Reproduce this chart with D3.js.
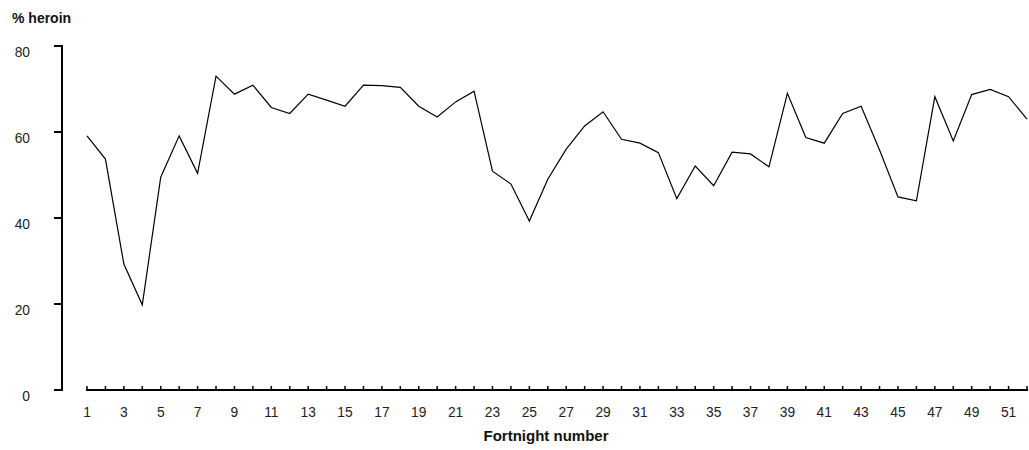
<!DOCTYPE html>
<html>
<head>
<meta charset="utf-8">
<script src="https://cdn.jsdelivr.net/npm/d3@7"></script>
<style>
  html, body { margin: 0; padding: 0; background: #fff; }
  svg { display: block; }
  .tick-label { font-family: "Liberation Sans", Arial, sans-serif; font-size: 15px; fill: #222; }
  .title { font-family: "Liberation Sans", Arial, sans-serif; font-weight: bold; fill: #111; }
</style>
</head>
<body>
<svg id="chart" width="1029" height="450"></svg>
<script>
// Data
const fortnights = d3.range(1, 53);
const heroinPct = [
  59.1, 53.7, 29.3, 19.8, 49.5, 59.1, 50.4, 73.0, 68.8, 70.9,
  65.7, 64.3, 68.8, 67.4, 66.0, 70.9, 70.8, 70.4, 66.0, 63.5,
  67.0, 69.5, 50.9, 47.9, 39.3, 49.0, 56.0, 61.4, 64.7, 58.3,
  57.4, 55.2, 44.5, 52.1, 47.5, 55.3, 54.9, 51.9, 69.0, 58.7,
  57.4, 64.3, 66.0, 55.8, 44.9, 44.0, 68.2, 57.9, 68.7, 69.9,
  68.2, 63.0
];
const yTicks = [0, 20, 40, 60, 80];
const xTickLabels = d3.range(1, 53, 2);
const yTitle = "% heroin";
const xTitle = "Fortnight number";

const svg = d3.select("#chart");

const x = d3.scaleLinear().domain([1, 52]).range([87, 1027]);
const y = d3.scaleLinear().domain([0, 80]).range([390, 46]);
const narrow = 0.92;

// Y axis
const yAxisX = 62;
svg.append("line")
  .attr("x1", yAxisX).attr("x2", yAxisX)
  .attr("y1", y(80) - 1).attr("y2", y(0) + 1)
  .attr("stroke", "#000").attr("stroke-width", 2);
svg.selectAll(".ytick").data(yTicks).enter().append("line")
  .attr("x1", 54).attr("x2", yAxisX)
  .attr("y1", d => y(d)).attr("y2", d => y(d))
  .attr("stroke", "#000").attr("stroke-width", 2);
svg.selectAll(".ylab").data(yTicks).enter().append("text")
  .attr("class", "tick-label")
  .attr("transform", d => `translate(30,${y(d) + 6}) scale(${narrow},1)`)
  .attr("text-anchor", "end")
  .attr("dominant-baseline", "central")
  .text(d => d);

// X axis
const xAxisY = y(0);
svg.append("line")
  .attr("x1", x(1) - 1).attr("x2", x(52) + 1)
  .attr("y1", xAxisY).attr("y2", xAxisY)
  .attr("stroke", "#000").attr("stroke-width", 2);
svg.selectAll(".xtick").data(fortnights).enter().append("line")
  .attr("x1", d => x(d)).attr("x2", d => x(d))
  .attr("y1", xAxisY - 4).attr("y2", xAxisY)
  .attr("stroke", "#000").attr("stroke-width", 1.5);
svg.selectAll(".xlab").data(xTickLabels).enter().append("text")
  .attr("class", "tick-label")
  .attr("transform", d => `translate(${x(d)},417) scale(${narrow},1)`)
  .attr("text-anchor", "middle")
  .text(d => d);

// Titles
svg.append("text").attr("class", "title")
  .attr("x", 12).attr("y", 23)
  .style("font-size", "14px")
  .text(yTitle);
svg.append("text").attr("class", "title")
  .attr("x", 546).attr("y", 441)
  .attr("text-anchor", "middle")
  .style("font-size", "15px")
  .text(xTitle);

// Line
const line = d3.line()
  .x((d, i) => x(fortnights[i]))
  .y(d => y(d));
svg.append("path")
  .datum(heroinPct)
  .attr("fill", "none")
  .attr("stroke", "#000")
  .attr("stroke-width", 1.2)
  .attr("stroke-linejoin", "miter")
  .attr("d", line);
</script>
</body>
</html>
